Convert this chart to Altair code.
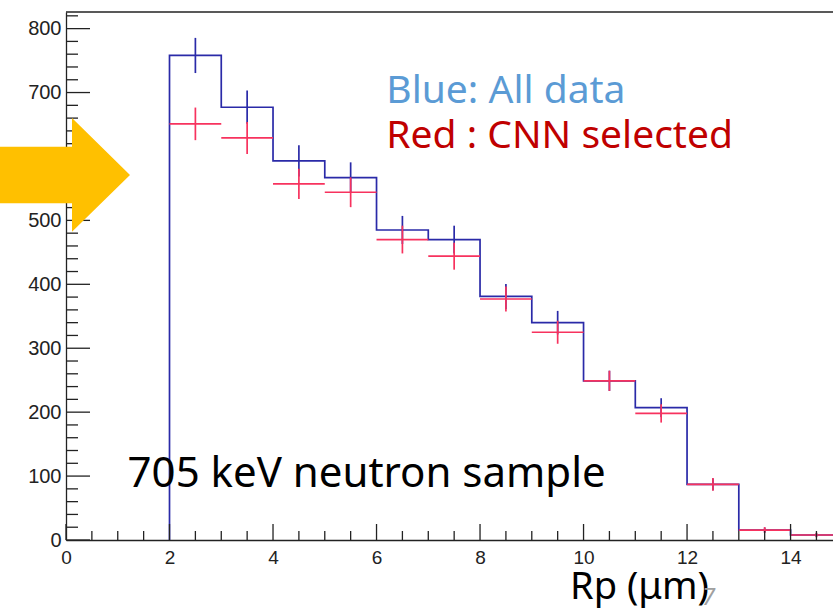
import altair as alt
import pandas as pd

# ---- data ----
bin_lo = [2, 3, 4, 5, 6, 7, 8, 9, 10, 11, 12, 13, 14]
blue_counts = [758, 677, 593, 567, 485, 470, 381, 340, 249, 207, 87, 15.6, 7.8]
blue_err = [27.5, 26.0, 24.4, 23.8, 22.0, 21.7, 19.5, 18.4, 15.8, 14.8, 9.3, 3.9, 2.8]
red_counts = [651, 629, 557, 544, 470, 444, 377, 325, 249, 198, 87, 15.6, 7.8]
red_err = [25.5, 25.1, 23.6, 23.3, 21.7, 21.1, 19.4, 18.0, 15.8, 14.3, 10.0, 4.5, 3.5]

y_major = [0, 100, 200, 300, 400, 500, 600, 700, 800]
y_minor = [20, 40, 60, 80, 120, 140, 160, 180, 220, 240, 260, 280, 320, 340, 360, 380,
           420, 440, 460, 480, 520, 540, 560, 580, 620, 640, 660, 680, 720, 740, 760, 780, 820]
x_major = [0, 2, 4, 6, 8, 10, 12, 14]
x_minor = [0.5, 1, 1.5, 2.5, 3, 3.5, 4.5, 5, 5.5, 6.5, 7, 7.5, 8.5, 9, 9.5,
           10.5, 11, 11.5, 12.5, 13, 13.5, 14.5]

X_MAX = 14.82
Y_MAX = 826
W, H = 767, 528
BLUE = "#2a2aa8"
RED = "#f7325e"

xs = alt.Scale(domain=[0, X_MAX], nice=False, zero=False)
ys = alt.Scale(domain=[0, Y_MAX], nice=False)

# step outline for the blue histogram
step_x = [bin_lo[0]] + bin_lo + [bin_lo[-1] + 1]
step_y = [0] + blue_counts + [blue_counts[-1]]
step_df = pd.DataFrame({"x": step_x, "y": step_y, "i": list(range(len(step_x)))})

blue_df = pd.DataFrame({
    "c": [b + 0.5 for b in bin_lo],
    "lo": [v - e for v, e in zip(blue_counts, blue_err)],
    "hi": [v + e for v, e in zip(blue_counts, blue_err)],
})
red_df = pd.DataFrame({
    "c": [b + 0.5 for b in bin_lo],
    "x0": bin_lo,
    "x1": [b + 1 for b in bin_lo],
    "y": red_counts,
    "lo": [v - e for v, e in zip(red_counts, red_err)],
    "hi": [v + e for v, e in zip(red_counts, red_err)],
})

x_axis = alt.Axis(values=x_major, tickSize=0, grid=False, labelFontSize=19,
                  labelFont="Liberation Sans", labelColor="#222", labelPadding=8,
                  domainColor="#222", domainWidth=1.3, title=None, labelFlush=False)
y_axis = alt.Axis(values=y_major, tickSize=0, grid=False, labelFontSize=20,
                  labelFont="Liberation Sans", labelColor="#222", labelPadding=5,
                  domainColor="#222", domainWidth=1.3, title=None)

step = alt.Chart(step_df).mark_line(interpolate="step-after", color=BLUE,
                                    strokeWidth=1.7, clip=True).encode(
    x=alt.X("x:Q", scale=xs, axis=x_axis),
    y=alt.Y("y:Q", scale=ys, axis=y_axis),
    order=alt.Order("i:Q"),
)

blue_err_m = alt.Chart(blue_df).mark_rule(color=BLUE, strokeWidth=1.7, clip=True).encode(
    x=alt.X("c:Q", scale=xs), y=alt.Y("lo:Q", scale=ys), y2="hi:Q")

red_h = alt.Chart(red_df).mark_rule(color=RED, strokeWidth=1.7, clip=True).encode(
    x=alt.X("x0:Q", scale=xs), x2="x1:Q", y=alt.Y("y:Q", scale=ys))
red_v = alt.Chart(red_df).mark_rule(color=RED, strokeWidth=1.7, clip=True).encode(
    x=alt.X("c:Q", scale=xs), y=alt.Y("lo:Q", scale=ys), y2="hi:Q")

# inward ticks (ROOT style)
yM = alt.Chart(pd.DataFrame({"v": y_major})).mark_rule(color="#222", strokeWidth=1.3).encode(
    y=alt.Y("v:Q", scale=ys), x=alt.value(0), x2=alt.value(24))
ym = alt.Chart(pd.DataFrame({"v": y_minor})).mark_rule(color="#222", strokeWidth=1.3).encode(
    y=alt.Y("v:Q", scale=ys), x=alt.value(0), x2=alt.value(12))
xM = alt.Chart(pd.DataFrame({"v": x_major})).mark_rule(color="#222", strokeWidth=1.3).encode(
    x=alt.X("v:Q", scale=xs), y=alt.value(H), y2=alt.value(H - 16))
xm = alt.Chart(pd.DataFrame({"v": x_minor})).mark_rule(color="#222", strokeWidth=1.3).encode(
    x=alt.X("v:Q", scale=xs), y=alt.value(H), y2=alt.value(H - 9))
top = alt.Chart(pd.DataFrame({"v": [0]})).mark_rule(color="#222", strokeWidth=1.3).encode(
    y=alt.value(0), x=alt.value(0), x2=alt.value(W))

# annotations
ann_df = pd.DataFrame({
    "x": [6.19, 6.19, 1.19],
    "y": [683, 613, 83],
    "t": ["Blue: All data", "Red : CNN selected", "705 keV neutron sample"],
    "col": ["#5b9bd5", "#c00000", "#000000"],
    "s": [39, 39, 42],
})
ann = alt.Chart(ann_df).mark_text(align="left", baseline="alphabetic", font="Noto Sans").encode(
    x=alt.X("x:Q", scale=xs), y=alt.Y("y:Q", scale=ys), text="t:N",
    color=alt.Color("col:N", scale=None), size=alt.Size("s:Q", scale=None))

xtitle = alt.Chart(pd.DataFrame({"t": ["Rp (\u03bcm)"]})).mark_text(
    align="left", baseline="alphabetic", font="Noto Sans", fontSize=38, color="#000").encode(
    x=alt.value(504), y=alt.value(587), text="t:N")
pagenum = alt.Chart(pd.DataFrame({"t": ["7"]})).mark_text(
    align="left", baseline="alphabetic", font="Noto Sans", fontSize=24, fontStyle="italic",
    color="#a0a0a0").encode(
    x=alt.value(636), y=alt.value(593), text="t:N")

arrow_path = "M-66,134.7 L6,134.7 L6,106 L64,163 L6,219.7 L6,191.3 L-66,191.3 Z"
arrow = alt.Chart(pd.DataFrame({"v": [0]})).mark_point(
    shape=arrow_path, size=4, filled=True, fill="#ffc000", stroke=None, opacity=1).encode(
    x=alt.value(0), y=alt.value(0))

chart = alt.layer(step, blue_err_m, red_h, red_v, yM, ym, xM, xm, top, ann, xtitle, pagenum, arrow
).properties(
    width=W, height=H,
    autosize=alt.AutoSizeParams(type="none"),
    padding={"left": 66, "top": 12, "right": 0, "bottom": 70},
    background="white",
).configure_view(stroke=None)

chart.save("out.html", embed_options={"renderer": "svg", "actions": False})
